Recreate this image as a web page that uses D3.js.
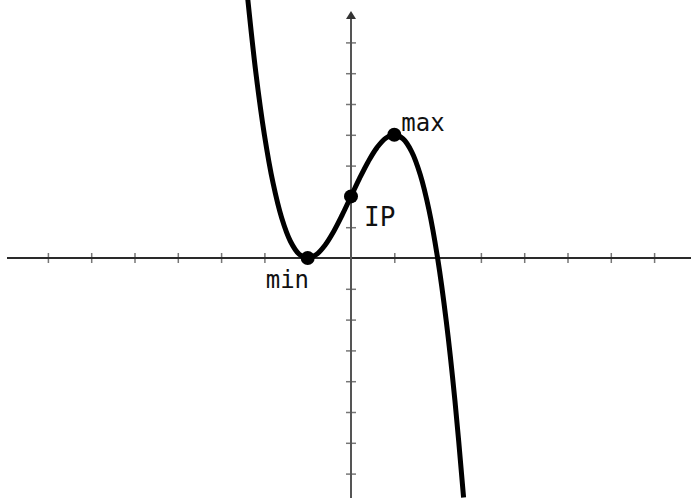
<!DOCTYPE html>
<html>
<head>
<meta charset="utf-8">
<script src="https://cdn.jsdelivr.net/npm/d3@7/dist/d3.min.js"></script>
<style>
  html, body { margin: 0; padding: 0; background: #fff; }
  svg { display: block; }
  .lbl { font-family: "DejaVu Sans Mono", monospace; font-size: 24px; fill: #111; }
</style>
</head>
<body>
<svg id="chart" width="691" height="498"></svg>
<script>
// Sampled points of the cubic curve (x, y)
const curveX = [-2.4, -2.2, -2.0, -1.8, -1.6, -1.4, -1.2, -1.0, -0.8, -0.6, -0.4, -0.2, 0,
                0.2, 0.4, 0.6, 0.8, 1.0, 1.2, 1.4, 1.6, 1.8, 2.0, 2.2, 2.4, 2.6];
const curveY = [8.624, 6.048, 4, 2.432, 1.296, 0.544, 0.128, 0, 0.112, 0.416, 0.864, 1.408, 2,
                2.592, 3.136, 3.584, 3.888, 4, 3.872, 3.456, 2.704, 1.568, 0, -2.048, -4.624, -7.776];

// Marked points: local minimum, inflection point, local maximum
const markNames = ["min", "IP", "max"];
const markX = [-1, 0, 1];
const markY = [0, 2, 4];

// Tick positions on each axis
const xTicks = [-7, -6, -5, -4, -3, -2, -1, 1, 2, 3, 4, 5, 6, 7, 8];
const yTicks = [-7, -6, -5, -4, -3, -2, -1, 1, 2, 3, 4, 5, 6, 7];

const W = 691, H = 498;
const svg = d3.select("#chart");

const x = d3.scaleLinear().domain([-8, 8]).range([351 - 8 * 43.3, 351 + 8 * 43.3]);
const y = d3.scaleLinear().domain([-8, 8]).range([258 + 8 * 30.8, 258 - 8 * 30.8]);

svg.append("defs").append("clipPath").attr("id", "clip")
  .append("rect").attr("x", 0).attr("y", 0).attr("width", W).attr("height", H);

// x axis
const gx = svg.append("g").attr("transform", `translate(0,${y(0)})`)
  .call(d3.axisBottom(x).tickValues(xTicks).tickSizeInner(5).tickSizeOuter(0).tickFormat(""));
gx.select(".domain").remove();
gx.selectAll(".tick line").attr("y1", -5).attr("y2", 5)
  .attr("stroke", "#777").attr("stroke-width", 1.5);
svg.append("line")
  .attr("x1", 7).attr("x2", W).attr("y1", y(0)).attr("y2", y(0))
  .attr("stroke", "#2a2a2a").attr("stroke-width", 2);

// y axis
const gy = svg.append("g").attr("transform", `translate(${x(0)},0)`)
  .call(d3.axisLeft(y).tickValues(yTicks).tickSizeInner(5).tickSizeOuter(0).tickFormat(""));
gy.select(".domain").remove();
gy.selectAll(".tick line").attr("x1", -5).attr("x2", 5)
  .attr("stroke", "#777").attr("stroke-width", 1.5);
svg.append("line")
  .attr("x1", x(0)).attr("x2", x(0)).attr("y1", 16).attr("y2", H)
  .attr("stroke", "#555").attr("stroke-width", 2);
svg.append("path")
  .attr("d", `M${x(0)},11 L${x(0) - 5},19 L${x(0) + 5},19 Z`)
  .attr("fill", "#333");

// curve
const pts = curveX.map((d, i) => [d, curveY[i]]);
const line = d3.line().x(d => x(d[0])).y(d => y(d[1])).curve(d3.curveCatmullRom.alpha(0.5));
svg.append("path")
  .attr("clip-path", "url(#clip)")
  .attr("d", line(pts))
  .attr("fill", "none").attr("stroke", "#000").attr("stroke-width", 5)
  .attr("stroke-linejoin", "round");

// marked points
const marks = markNames.map((n, i) => ({ n, x: markX[i], y: markY[i] }));
svg.selectAll("circle.mark").data(marks).join("circle")
  .attr("class", "mark")
  .attr("cx", d => x(d.x)).attr("cy", d => y(d.y)).attr("r", 7).attr("fill", "#000");

// labels, offset from their points
const offsets = { min: [-42, 30], IP: [13, 30], max: [7, -4] };
svg.selectAll("text.lbl").data(marks).join("text")
  .attr("class", "lbl")
  .attr("x", d => x(d.x) + offsets[d.n][0])
  .attr("y", d => y(d.y) + offsets[d.n][1])
  .style("font-size", d => d.n === "IP" ? "26px" : null)
  .style("font-weight", "500")
  .text(d => d.n);
</script>
</body>
</html>
